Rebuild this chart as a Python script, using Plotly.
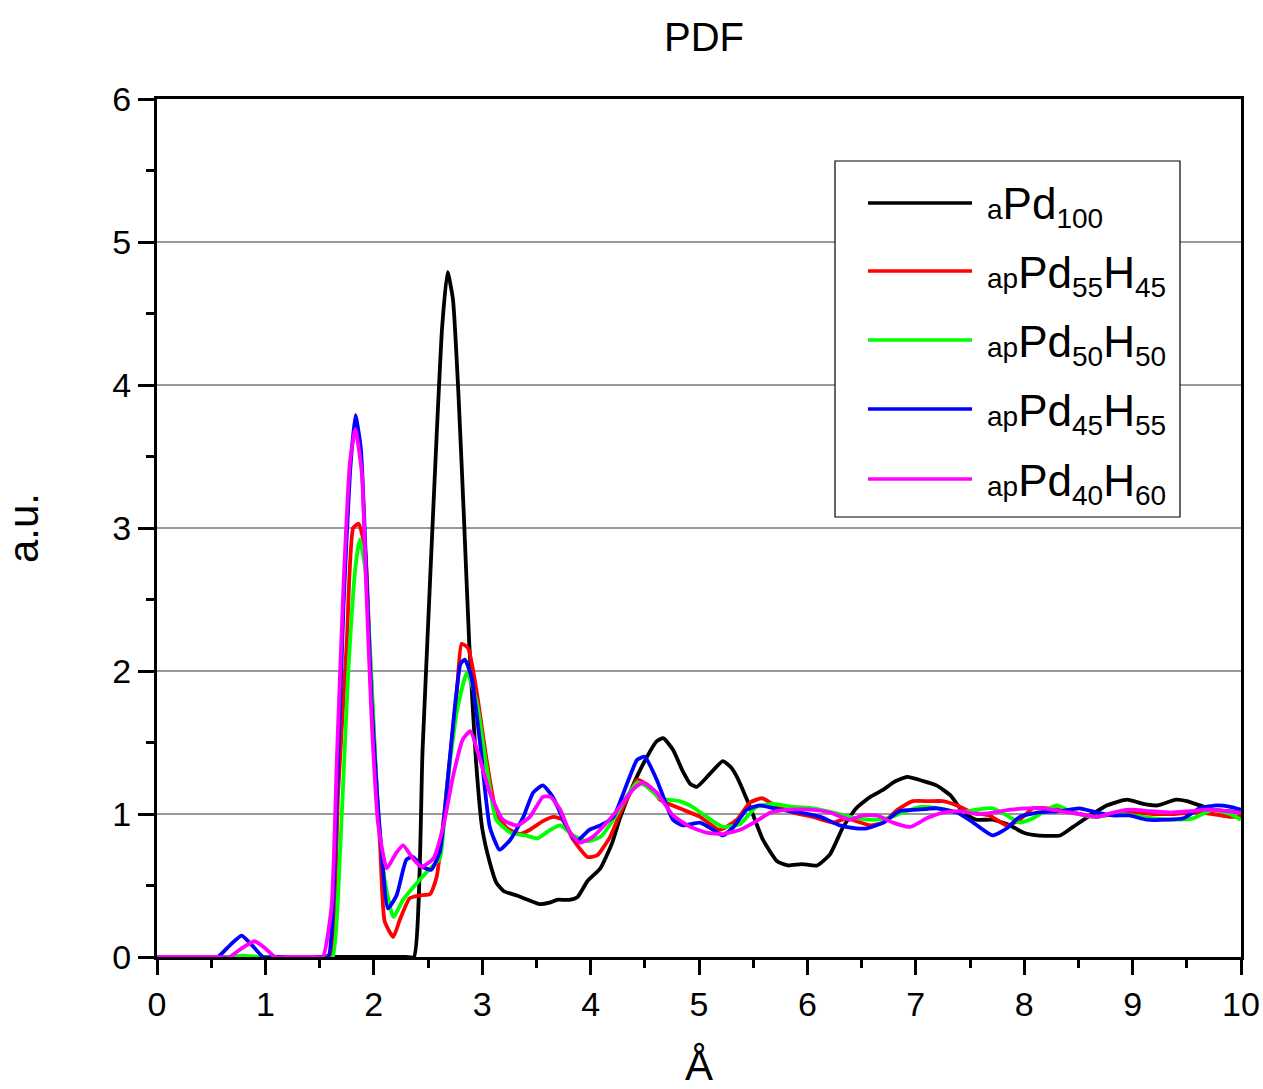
import plotly.graph_objects as go

# ---- data ----
x_apd100 = [0, 1.0, 2.0, 2.23, 2.30, 2.37, 2.45, 2.52, 2.58, 2.63, 2.68, 2.73, 2.78, 2.83, 2.88, 2.94, 3.00, 3.07, 3.13, 3.2, 3.32, 3.42, 3.53, 3.62, 3.69, 3.80, 3.88, 3.97, 4.09, 4.2, 4.27, 4.39, 4.52, 4.61, 4.67, 4.76, 4.85, 4.92, 4.98, 5.10, 5.22, 5.29, 5.35, 5.47, 5.59, 5.72, 5.82, 5.95, 6.09, 6.21, 6.33, 6.45, 6.58, 6.70, 6.79, 6.92, 7.07, 7.19, 7.32, 7.44, 7.56, 7.71, 7.87, 7.99, 8.12, 8.33, 8.45, 8.61, 8.76, 8.95, 9.10, 9.23, 9.40, 9.50, 9.62, 9.74, 10]
y_apd100 = [0, 0, 0, 0, 0, 0, 1.45, 2.65, 3.65, 4.40, 4.79, 4.60, 3.95, 3.10, 2.20, 1.40, 0.90, 0.66, 0.52, 0.46, 0.43, 0.40, 0.37, 0.38, 0.40, 0.40, 0.42, 0.53, 0.62, 0.80, 0.97, 1.20, 1.40, 1.51, 1.53, 1.45, 1.30, 1.21, 1.19, 1.28, 1.37, 1.33, 1.26, 1.05, 0.82, 0.67, 0.64, 0.65, 0.64, 0.72, 0.91, 1.04, 1.12, 1.17, 1.22, 1.26, 1.23, 1.20, 1.13, 1.01, 0.96, 0.96, 0.92, 0.87, 0.85, 0.85, 0.91, 0.99, 1.06, 1.10, 1.07, 1.06, 1.10, 1.09, 1.06, 1.03, 1.01]

x_h45 = [0, 0.5, 1.0, 1.3, 1.45, 1.53, 1.60, 1.67, 1.75, 1.81, 1.86, 1.92, 1.96, 2.01, 2.06, 2.10, 2.18, 2.24, 2.33, 2.42, 2.52, 2.58, 2.67, 2.77, 2.81, 2.87, 2.95, 3.04, 3.13, 3.23, 3.35, 3.44, 3.56, 3.66, 3.74, 3.84, 3.97, 4.06, 4.18, 4.27, 4.36, 4.43, 4.55, 4.64, 4.82, 5.01, 5.19, 5.35, 5.47, 5.58, 5.68, 5.87, 6.05, 6.24, 6.36, 6.58, 6.70, 6.83, 6.97, 7.13, 7.25, 7.38, 7.53, 7.68, 7.84, 7.96, 8.08, 8.21, 8.33, 8.51, 8.67, 8.82, 9.00, 9.19, 9.38, 9.56, 9.74, 9.90, 10]
y_h45 = [0, 0, 0, 0, 0, 0, 0.02, 1.14, 2.19, 3.00, 3.03, 2.85, 2.19, 1.41, 0.75, 0.25, 0.14, 0.26, 0.41, 0.43, 0.44, 0.56, 1.15, 1.89, 2.19, 2.16, 1.85, 1.38, 1.01, 0.90, 0.86, 0.89, 0.95, 0.98, 0.96, 0.82, 0.70, 0.71, 0.84, 1.00, 1.14, 1.24, 1.19, 1.10, 1.04, 0.98, 0.89, 0.96, 1.08, 1.11, 1.07, 1.01, 0.98, 0.94, 0.97, 0.92, 0.94, 1.03, 1.09, 1.09, 1.09, 1.06, 1.01, 0.99, 0.92, 0.96, 1.04, 1.04, 1.03, 1.00, 0.98, 1.00, 1.01, 1.00, 1.00, 1.01, 1.00, 0.98, 0.98]

x_h50 = [0, 0.4, 0.55, 0.65, 0.8, 0.95, 1.05, 1.2, 1.4, 1.55, 1.62, 1.69, 1.76, 1.83, 1.87, 1.92, 1.98, 2.04, 2.10, 2.18, 2.27, 2.40, 2.52, 2.61, 2.67, 2.77, 2.86, 2.95, 3.04, 3.13, 3.26, 3.40, 3.51, 3.63, 3.72, 3.84, 3.97, 4.09, 4.21, 4.34, 4.43, 4.52, 4.64, 4.82, 4.94, 5.07, 5.22, 5.38, 5.53, 5.68, 5.87, 6.05, 6.24, 6.39, 6.58, 6.73, 6.88, 7.04, 7.22, 7.41, 7.56, 7.71, 7.84, 7.96, 8.08, 8.21, 8.30, 8.45, 8.64, 8.82, 9.00, 9.19, 9.38, 9.56, 9.74, 9.90, 10]
y_h50 = [0, 0, 0, 0, 0.01, 0, 0, 0, 0, 0, 0, 0.75, 1.93, 2.72, 2.92, 2.72, 1.93, 1.01, 0.54, 0.28, 0.40, 0.52, 0.62, 0.69, 1.15, 1.73, 1.99, 1.78, 1.33, 0.96, 0.87, 0.85, 0.83, 0.89, 0.92, 0.85, 0.81, 0.84, 0.96, 1.13, 1.22, 1.19, 1.11, 1.09, 1.05, 0.98, 0.91, 0.93, 1.05, 1.07, 1.05, 1.04, 1.01, 0.98, 0.96, 0.97, 1.01, 1.05, 1.04, 1.01, 1.03, 1.04, 0.99, 0.94, 0.97, 1.03, 1.06, 1.01, 0.98, 1.00, 0.99, 0.97, 0.96, 0.97, 1.03, 1.00, 0.96]

x_h55 = [0, 0.3, 0.45, 0.56, 0.67, 0.78, 0.88, 0.98, 1.1, 1.3, 1.45, 1.52, 1.58, 1.66, 1.72, 1.78, 1.83, 1.88, 1.93, 1.98, 2.03, 2.07, 2.13, 2.21, 2.30, 2.36, 2.45, 2.53, 2.61, 2.70, 2.80, 2.84, 2.90, 2.98, 3.07, 3.16, 3.26, 3.38, 3.47, 3.56, 3.65, 3.78, 3.87, 3.99, 4.09, 4.21, 4.34, 4.43, 4.50, 4.61, 4.76, 4.85, 5.01, 5.13, 5.22, 5.32, 5.44, 5.56, 5.75, 5.93, 6.12, 6.30, 6.45, 6.55, 6.70, 6.85, 7.01, 7.19, 7.38, 7.53, 7.71, 7.84, 7.96, 8.12, 8.33, 8.51, 8.67, 8.82, 8.97, 9.13, 9.32, 9.47, 9.62, 9.78, 9.90, 10]
y_h55 = [0, 0, 0, 0, 0.08, 0.15, 0.08, 0, 0, 0, 0, 0, 0, 1.14, 2.45, 3.38, 3.79, 3.56, 2.72, 1.78, 1.14, 0.75, 0.34, 0.43, 0.68, 0.70, 0.63, 0.61, 0.74, 1.38, 2.05, 2.08, 1.96, 1.50, 0.91, 0.75, 0.82, 0.98, 1.15, 1.20, 1.12, 0.91, 0.81, 0.89, 0.92, 0.98, 1.22, 1.38, 1.40, 1.24, 0.96, 0.92, 0.94, 0.89, 0.85, 0.91, 1.03, 1.06, 1.03, 1.01, 0.98, 0.92, 0.90, 0.90, 0.94, 1.02, 1.03, 1.04, 1.01, 0.94, 0.85, 0.90, 0.98, 1.01, 1.02, 1.04, 1.01, 0.99, 0.99, 0.96, 0.96, 0.97, 1.04, 1.06, 1.05, 1.03]

x_h60 = [0, 0.4, 0.55, 0.67, 0.78, 0.90, 1.0, 1.09, 1.2, 1.35, 1.46, 1.53, 1.61, 1.66, 1.72, 1.78, 1.83, 1.89, 1.93, 1.98, 2.04, 2.12, 2.20, 2.27, 2.36, 2.44, 2.55, 2.64, 2.73, 2.82, 2.89, 2.98, 3.07, 3.19, 3.32, 3.44, 3.56, 3.63, 3.72, 3.81, 3.90, 4.02, 4.15, 4.27, 4.39, 4.48, 4.61, 4.76, 4.92, 5.07, 5.22, 5.38, 5.53, 5.66, 5.84, 6.02, 6.21, 6.39, 6.51, 6.64, 6.79, 6.95, 7.10, 7.25, 7.41, 7.56, 7.71, 7.87, 8.02, 8.18, 8.33, 8.51, 8.67, 8.82, 8.97, 9.16, 9.35, 9.53, 9.71, 9.87, 10]
y_h60 = [0, 0, 0, 0, 0.06, 0.11, 0.06, 0, 0, 0, 0, 0, 0.35, 1.40, 2.59, 3.46, 3.69, 3.38, 2.59, 1.66, 0.93, 0.62, 0.72, 0.78, 0.69, 0.63, 0.69, 0.91, 1.26, 1.52, 1.58, 1.38, 1.15, 0.96, 0.92, 0.98, 1.12, 1.12, 1.03, 0.87, 0.80, 0.84, 0.94, 1.05, 1.17, 1.22, 1.15, 0.99, 0.91, 0.87, 0.86, 0.89, 0.95, 1.01, 1.03, 1.03, 1.01, 0.96, 0.99, 0.99, 0.94, 0.91, 0.97, 1.01, 1.02, 1.00, 1.01, 1.03, 1.04, 1.04, 1.02, 1.00, 0.98, 1.01, 1.03, 1.02, 1.01, 1.02, 1.03, 1.02, 1.01]

SM = "<span style='font-size:28px'>{}</span>"
series = [
    ("aPd100", x_apd100, y_apd100, "#000000",
     SM.format("a") + "Pd<sub>" + SM.format("100") + "</sub>"),
    ("apPd55H45", x_h45, y_h45, "#FF0000",
     SM.format("ap") + "Pd<sub>" + SM.format("55") + "</sub>H<sub>" + SM.format("45") + "</sub>"),
    ("apPd50H50", x_h50, y_h50, "#00FF00",
     SM.format("ap") + "Pd<sub>" + SM.format("50") + "</sub>H<sub>" + SM.format("50") + "</sub>"),
    ("apPd45H55", x_h55, y_h55, "#0000FF",
     SM.format("ap") + "Pd<sub>" + SM.format("45") + "</sub>H<sub>" + SM.format("55") + "</sub>"),
    ("apPd40H60", x_h60, y_h60, "#FF00FF",
     SM.format("ap") + "Pd<sub>" + SM.format("40") + "</sub>H<sub>" + SM.format("60") + "</sub>"),
]

FONT = "Liberation Sans, Arial, sans-serif"

fig = go.Figure()
for name, xs, ys, col, _ in series:
    fig.add_trace(go.Scatter(x=xs, y=ys, mode="lines", name=name,
                             line=dict(color=col, width=3.8, shape="spline", smoothing=0.5),
                             showlegend=False))

W, H = 1263, 1089
L, R, B, T = 157, 1241, 957, 99  # target plot area in page pixels


def px(xp):
    return (xp - L) / (R - L)


def py(yp):
    return (B - yp) / (B - T)


shapes = [dict(type="rect", xref="paper", yref="paper", x0=px(835), x1=px(1180),
               y0=py(517), y1=py(161), line=dict(color="black", width=1.2),
               fillcolor="white", layer="above")]
annotations = []
rows = [203, 271, 340, 409, 479]
for (name, xs, ys, col, label), ry in zip(series, rows):
    shapes.append(dict(type="line", xref="paper", yref="paper", x0=px(868), x1=px(972),
                       y0=py(ry), y1=py(ry), line=dict(color=col, width=3.5), layer="above"))
    annotations.append(dict(xref="paper", yref="paper", x=px(985), y=py(ry + 4),
                            xanchor="left", yanchor="middle", showarrow=False,
                            text=label, font=dict(family=FONT, size=44, color="black")))

fig.update_layout(
    width=W, height=H,
    margin=dict(l=L, r=W - R, t=T, b=H - B),
    paper_bgcolor="white", plot_bgcolor="white",
    title=dict(text="PDF", x=704 / W, xanchor="center",
               y=1 - 37 / H, yanchor="middle",
               font=dict(family=FONT, size=40, color="black")),
    font=dict(family=FONT, color="black"),
    shapes=shapes, annotations=annotations,
    showlegend=False,
)
fig.update_xaxes(range=[0, 10], dtick=1, showgrid=False, zeroline=False,
                 showline=True, linecolor="black", linewidth=3, mirror=True,
                 ticks="outside", ticklen=15, tickwidth=3, tickcolor="black",
                 minor=dict(dtick=0.5, ticks="outside", ticklen=8, tickwidth=3, tickcolor="black"),
                 tickfont=dict(family=FONT, size=34, color="black"), automargin=False,
                 title=dict(text="Å", font=dict(family=FONT, size=42, color="black"), standoff=41))
fig.update_yaxes(range=[0, 6], dtick=1, showgrid=True, gridcolor="#9a9a9a", gridwidth=1.5,
                 zeroline=False,
                 showline=True, linecolor="black", linewidth=3, mirror=True,
                 ticks="outside", ticklen=16, tickwidth=3, tickcolor="black",
                 minor=dict(dtick=0.5, ticks="outside", ticklen=8, tickwidth=3, tickcolor="black",
                            showgrid=False),
                 tickfont=dict(family=FONT, size=34, color="black"), automargin=False,
                 title=dict(text="a.u.", font=dict(family=FONT, size=42, color="black"), standoff=82))

# remove the default 8px page margin so the figure sits at the page origin
fig.write_html("out.html",
               config={"displayModeBar": False},
               post_script="document.body.style.margin='0px';document.body.style.overflow='hidden';")
